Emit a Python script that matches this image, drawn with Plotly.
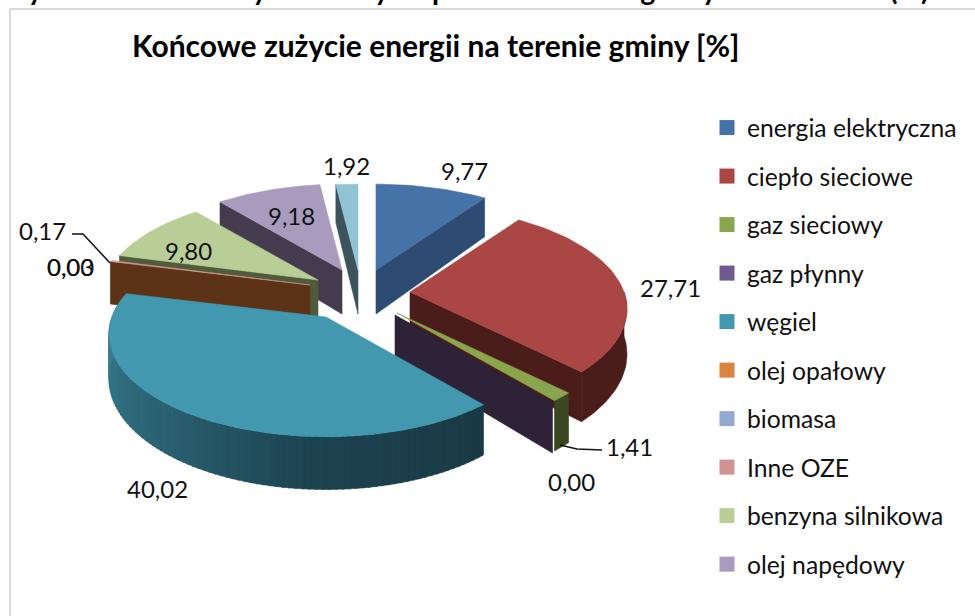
import math
import plotly.graph_objects as go

# ---- data ----
categories = ["energia elektryczna", "ciepło sieciowe", "gaz sieciowy", "gaz płynny", "węgiel",
              "olej opałowy", "biomasa", "Inne OZE", "benzyna silnikowa", "olej napędowy", "inne"]
values = [9.77, 27.71, 1.41, 0.00, 40.02, 0.00, 0.03, 0.17, 9.80, 9.18, 1.92]
in_legend = [True] * 10 + [False]
top_colors = ["#4572A7", "#AA4643", "#89A54E", "#71588F", "#4198AF",
              "#DB843D", "#93A9CF", "#D19392", "#B9CD96", "#A99BBD", "#92C3D5"]
side_colors = ["#2E4B72", "#4A1C1A", "#3B4720", "#2D2238", "#1C3F4B",
               "#5C3317", "#3F4A5C", "#5C3F3E", "#4F5C3C", "#443C4E", "#3D535B"]
title = "Końcowe zużycie energii na terenie gminy [%]"
caption = "Rysunek 11: Sumaryczne zużycie paliw na terenie gminy w roku 2015 (%)."

# ---- projection of the exploded, tilted pie (layout only) ----
CX, CY = 358, 297          # pie centre
A, B = 214, 100            # horizontal / vertical radii
K = 0.165                  # perspective strength
DEPTH = 44                 # extrusion
W, H = 975, 616
FONT = "Lato, Carlito, Calibri, sans-serif"
explode_dx = [18, 52, 39, 37, -32, -48, -48, -48, -40, -16, 0]
explode_dy = [-27, -5, 16, 18, 20, -12, -12, -12, -17, -27, -27]

total = sum(values)
bounds = [0.0]
for v in values:
    bounds.append(bounds[-1] + v / total * 360)


def apex(i):
    return CX + explode_dx[i], CY + explode_dy[i]


def rim(i, deg, down=0.0):
    t = math.radians(deg)
    s = 1 / (1 + K * math.cos(t))
    ax, ay = apex(i)
    return ax + A * math.sin(t) * s, ay - B * math.cos(t) * s + down * s


def arc(i, d0, d1, down=0.0):
    n = max(2, int(abs(d1 - d0) / 1.5) + 2)
    return [rim(i, d0 + (d1 - d0) * k / (n - 1), down) for k in range(n)]


fig = go.Figure()


def poly(pts, color):
    xs = [p[0] for p in pts] + [pts[0][0]]
    ys = [p[1] for p in pts] + [pts[0][1]]
    fig.add_trace(go.Scatter(x=xs, y=ys, mode="lines", fill="toself", fillcolor=color,
                             line=dict(color=color, width=0.6), showlegend=False,
                             hoverinfo="skip"))


def top(i):
    poly([apex(i)] + arc(i, bounds[i], bounds[i + 1]), top_colors[i])


def radial(i, deg, color=None):
    ax, ay = apex(i)
    poly([(ax, ay), rim(i, deg), rim(i, deg, DEPTH), (ax, ay + DEPTH)], color or side_colors[i])


def outer(i, d0, d1, color=None):
    poly(arc(i, d0, d1) + arc(i, d1, d0, DEPTH), color or side_colors[i])


def lerp_hex(c1, c2, f):
    a = [int(c1[j:j + 2], 16) for j in (1, 3, 5)]
    b = [int(c2[j:j + 2], 16) for j in (1, 3, 5)]
    return "#%02X%02X%02X" % tuple(round(x + (y - x) * f) for x, y in zip(a, b))


# back-to-front painting order
i_e, i_c, i_g, i_l, i_w, i_o, i_b, i_z, i_p, i_n, i_x = range(11)

radial(i_x, bounds[i_x]); top(i_x)
radial(i_e, bounds[i_e + 1]); top(i_e)
radial(i_n, bounds[i_n]); top(i_n)
radial(i_p, bounds[i_p]); top(i_p)
radial(i_c, bounds[i_c + 1]); outer(i_c, 90, bounds[i_c + 1]); top(i_c)
outer(i_g, bounds[i_g], bounds[i_g + 1]); top(i_g)
radial(i_l, bounds[i_l])
radial(i_o, bounds[i_o]); top(i_z)

# coal wall, shaded left to right
d0, d1 = bounds[i_w], bounds[i_w + 1]
segs = 96
stops = [(0.0, "#1A3A45"), (0.3, "#1D4350"), (0.55, "#2A6070"), (0.8, "#337587"), (1.0, "#3A8398")]
for k in range(segs):
    f = k / (segs - 1)
    for (f0, c0), (f1, c1) in zip(stops, stops[1:]):
        if f0 <= f <= f1:
            col = lerp_hex(c0, c1, (f - f0) / (f1 - f0))
            break
    a0 = d0 + (d1 - d0) * k / segs
    a1 = d0 + (d1 - d0) * (k + 1.3) / segs
    outer(i_w, a0, min(a1, d1), col)
top(i_w)

# native legend
for name, col, show in zip(categories, top_colors, in_legend):
    if show:
        fig.add_trace(go.Scatter(x=[None], y=[None], mode="markers", name=name, legendgroup=name,
                                 marker=dict(symbol="square", size=15, color=col)))

# data labels
label_pos = [(464, 170), (670, 287), (629, 446), (571, 481), (157, 488),
             (70, 266), (70, 266), (42, 230), (188, 250), (291, 215), (346, 165)]
for v, (lx, ly) in zip(values, label_pos):
    fig.add_annotation(x=lx, y=ly, text=f"{v:.2f}".replace(".", ","), showarrow=False,
                       font=dict(family=FONT, size=24, color="#111111"))

# leader lines
fig.add_trace(go.Scatter(x=[72, 83, 110], y=[234, 234, 263], mode="lines",
                         line=dict(color="#111111", width=1.5), showlegend=False, hoverinfo="skip"))
fig.add_trace(go.Scatter(x=[602, 577, 560], y=[450, 449, 445], mode="lines",
                         line=dict(color="#111111", width=1.5), showlegend=False, hoverinfo="skip"))

fig.add_annotation(x=435, y=45, text=f"<b>{title}</b>", showarrow=False,
                   font=dict(family=FONT, size=30, color="#000000"))
fig.add_annotation(x=8, y=8, text=f"<b>{caption}</b>", showarrow=False, xanchor="left", yanchor="bottom",
                   font=dict(family=FONT, size=28.5, color="#000000"))

frame = dict(type="line", line=dict(color="#D9D9D9", width=2), xref="x", yref="y", layer="below")
fig.add_shape(x0=10, y0=9, x1=10, y1=H, **frame)
fig.add_shape(x0=10, y0=9, x1=W, y1=9, **frame)

fig.update_layout(
    width=W, height=H, margin=dict(l=0, r=0, t=0, b=0),
    paper_bgcolor="white", plot_bgcolor="white",
    xaxis=dict(range=[0, W], visible=False, fixedrange=True),
    yaxis=dict(range=[H, 0], visible=False, fixedrange=True),
    font=dict(family=FONT, color="#111111"),
    legend=dict(x=707 / W, y=1 - 105 / H, xanchor="left", yanchor="top", itemwidth=30,
                font=dict(family=FONT, size=24.7, color="#111111"), tracegroupgap=13.4,
                bgcolor="rgba(0,0,0,0)"),
)

fig.write_html("out.html", post_script="document.body.style.margin='0';document.documentElement.style.overflow='hidden';",
               config={"displayModeBar": False})
